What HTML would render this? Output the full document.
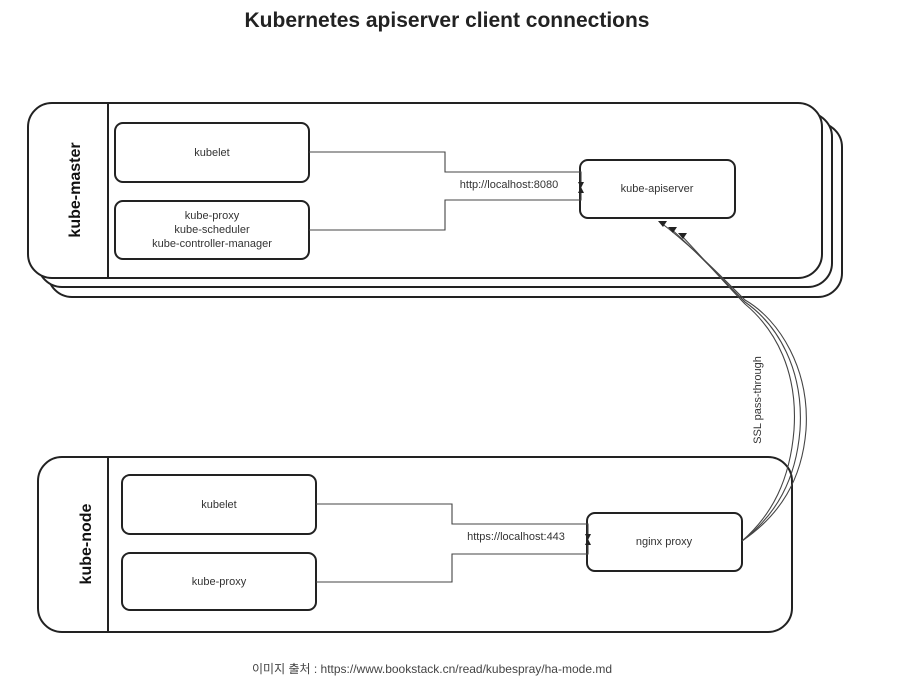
<!DOCTYPE html>
<html><head><meta charset="utf-8"><style>
body{margin:0;background:#fff;width:901px;height:691px;overflow:hidden;font-family:"Liberation Sans",sans-serif}
</style></head><body>
<svg width="901" height="691" viewBox="0 0 901 691" xmlns="http://www.w3.org/2000/svg" font-family="Liberation Sans, sans-serif">
<text x="447" y="27" text-anchor="middle" font-size="21" font-weight="bold" fill="#222">Kubernetes apiserver client connections</text>
<g fill="#fff" stroke="#222" stroke-width="2">
<rect x="48" y="123" width="794" height="174" rx="24"/>
<rect x="38" y="113" width="794" height="174" rx="24"/>
<rect x="28" y="103" width="794" height="175" rx="24"/>
<line x1="108" y1="103" x2="108" y2="278"/>
<rect x="38" y="457" width="754" height="175" rx="24"/>
<line x1="108" y1="457" x2="108" y2="632"/>
<rect x="115" y="123" width="194" height="59" rx="8"/>
<rect x="115" y="201" width="194" height="58" rx="8"/>
<rect x="580" y="160" width="155" height="58" rx="8"/>
<rect x="122" y="475" width="194" height="59" rx="8"/>
<rect x="122" y="553" width="194" height="57" rx="8"/>
<rect x="587" y="513" width="155" height="58" rx="8"/>
</g>
<g fill="none" stroke="#444" stroke-width="1.1">
<polyline points="309,152 445,152 445,172 581,172 581,184"/>
<polyline points="309,230 445,230 445,200 581,200 581,190"/>
<polyline points="316,504 452,504 452,524 588,524 588,536"/>
<polyline points="316,582 452,582 452,554 588,554 588,544"/>
<path d="M742,541 C780,515 802,480 806,430 C810,370 780,320 745,300 C715,270 690,245 660,222"/>
<path d="M742,541 C776,515 796,480 800,430 C804,370 778,325 745,302 C718,275 695,250 670,228"/>
<path d="M742,541 C772,515 790,480 794,430 C798,372 776,330 745,304 C722,280 700,255 680,234"/>
</g>
<g fill="#222">
<polygon points="578,182 584,182 581,188"/>
<polygon points="578,193 584,193 581,187"/>
<polygon points="585,534 591,534 588,540"/>
<polygon points="585,545 591,545 588,539"/>
<polygon points="658,221 667,221 663,227"/>
<polygon points="668,227 677,227 673,233"/>
<polygon points="678,233 687,233 683,239"/>
</g>
<g font-size="11" fill="#333" text-anchor="middle">
<text x="212" y="156">kubelet</text>
<text x="212" y="219">kube-proxy</text>
<text x="212" y="233">kube-scheduler</text>
<text x="212" y="247">kube-controller-manager</text>
<text x="657" y="192">kube-apiserver</text>
<text x="509" y="188">http://localhost:8080</text>
<text x="219" y="508">kubelet</text>
<text x="219" y="585">kube-proxy</text>
<text x="664" y="545">nginx proxy</text>
<text x="516" y="540">https://localhost:443</text>
<text transform="translate(761,400) rotate(-90)">SSL pass-through</text>
</g>
<g font-size="16" font-weight="bold" fill="#111" text-anchor="middle">
<text transform="translate(80,190) rotate(-90)">kube-master</text>
<text transform="translate(91,544) rotate(-90)">kube-node</text>
</g>
<text x="432" y="673" text-anchor="middle" font-size="12" fill="#444" font-family="Liberation Sans, Noto Sans CJK KR, sans-serif">이미지 출처 : https://www.bookstack.cn/read/kubespray/ha-mode.md</text>
</svg>
</body></html>
